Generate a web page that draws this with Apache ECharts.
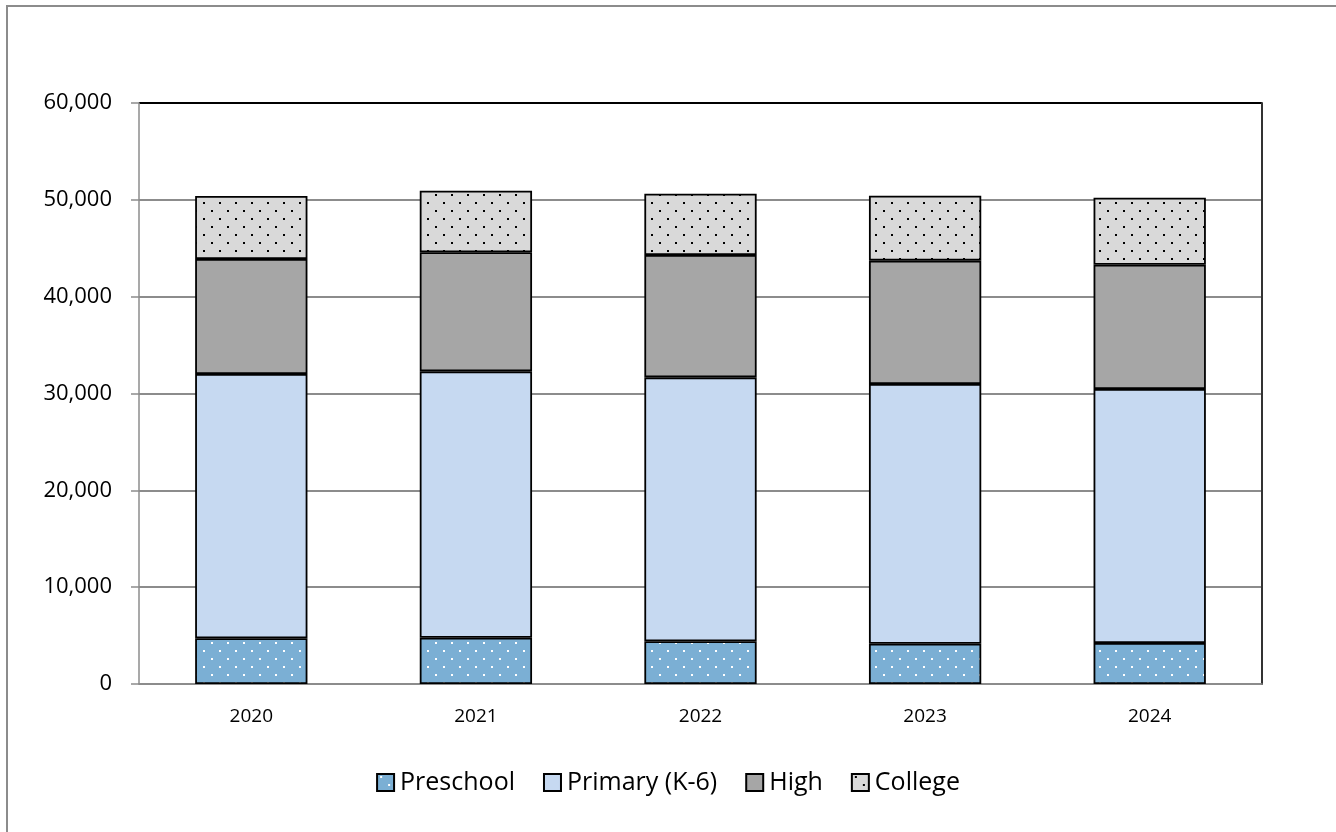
<!DOCTYPE html>
<html>
<head>
<meta charset="utf-8">
<script src="https://cdn.jsdelivr.net/npm/echarts@6/dist/echarts.min.js"></script>
<style>
  html, body { margin: 0; padding: 0; background: #fff; }
  #chart { width: 1336px; height: 832px; }
</style>
</head>
<body>
<div id="chart"></div>
<script>
// data
var years = ['2020', '2021', '2022', '2023', '2024']
var preschool = [4720, 4780, 4410, 4160, 4230]
var primary = [27290, 27510, 27260, 26820, 26240]
var high = [11880, 12290, 12630, 12740, 12830]
var college = [6510, 6370, 6340, 6710, 6920]
var yTicks = [0, 10000, 20000, 30000, 40000, 50000, 60000]

// dotted fill like the excel pattern
function dots(bg, fg) {
  var c = document.createElement('canvas')
  c.width = 16
  c.height = 16
  var ctx = c.getContext('2d')
  ctx.fillStyle = bg
  ctx.fillRect(0, 0, 16, 16)
  ctx.fillStyle = fg
  ctx.fillRect(3, 2, 2, 2)
  ctx.fillRect(11, 10, 2, 2)
  return { image: c, repeat: 'repeat' }
}

var font = '"Open Sans", "DejaVu Sans", sans-serif'

function bar(name, data, color) {
  return {
    name: name,
    type: 'bar',
    stack: 'total',
    barWidth: '50%',
    data: data,
    itemStyle: { color: color, borderColor: '#000', borderWidth: 1.8 }
  }
}

// top gridline is the black plot border
var gridColors = yTicks.map(function(v, i) {
  return i === yTicks.length - 1 ? '#000' : '#8c8c8c'
})

var myChart = echarts.init(document.getElementById('chart'))
myChart.setOption({
  animation: false,
  textStyle: { fontFamily: font, color: '#000' },
  graphic: [{
    type: 'rect',
    shape: { x: 7, y: 6, width: 1340, height: 840 },
    style: { fill: 'none', stroke: '#8c8c8c', lineWidth: 2 },
    silent: true
  }],
  grid: { left: 139, top: 103, right: 74, bottom: 148 },
  legend: {
    top: 765,
    left: 'center',
    itemWidth: 17,
    itemHeight: 17,
    itemGap: 28,
    icon: 'rect',
    textStyle: { fontFamily: font, fontSize: 25, color: '#000', padding: [0, 0, 0, 1] },
    data: ['Preschool', 'Primary (K-6)', 'High', 'College']
  },
  xAxis: [{
    type: 'category',
    data: years,
    axisLine: { lineStyle: { color: '#8c8c8c', width: 1.5 } },
    axisTick: { length: 8, lineStyle: { color: '#8c8c8c', width: 1.5 } },
    axisLabel: { fontSize: 19, color: '#000', margin: 23, fontFamily: font }
  }],
  yAxis: [{
    type: 'value',
    min: yTicks[0],
    max: yTicks[yTicks.length - 1],
    interval: yTicks[1] - yTicks[0],
    axisLine: { show: true, lineStyle: { color: '#8c8c8c', width: 1.5 } },
    axisTick: { show: true, length: 8, lineStyle: { color: '#8c8c8c', width: 1.5 } },
    splitLine: { lineStyle: { color: gridColors, width: 1.8 } },
    axisLabel: {
      fontSize: 22,
      color: '#000',
      margin: 27,
      fontFamily: font,
      formatter: function(v) { return v.toLocaleString('en-US') }
    }
  }, {
    type: 'value',
    position: 'right',
    min: yTicks[0],
    max: yTicks[yTicks.length - 1],
    interval: yTicks[1] - yTicks[0],
    axisLine: { show: true, lineStyle: { color: '#333', width: 2 } },
    axisTick: { show: false },
    axisLabel: { show: false },
    splitLine: { show: false }
  }],
  series: [
    bar('Preschool', preschool, dots('#7bafd4', '#ffffff')),
    bar('Primary (K-6)', primary, '#c6d9f1'),
    bar('High', high, '#a6a6a6'),
    bar('College', college, dots('#d9d9d9', '#000000'))
  ]
})
</script>
</body>
</html>
